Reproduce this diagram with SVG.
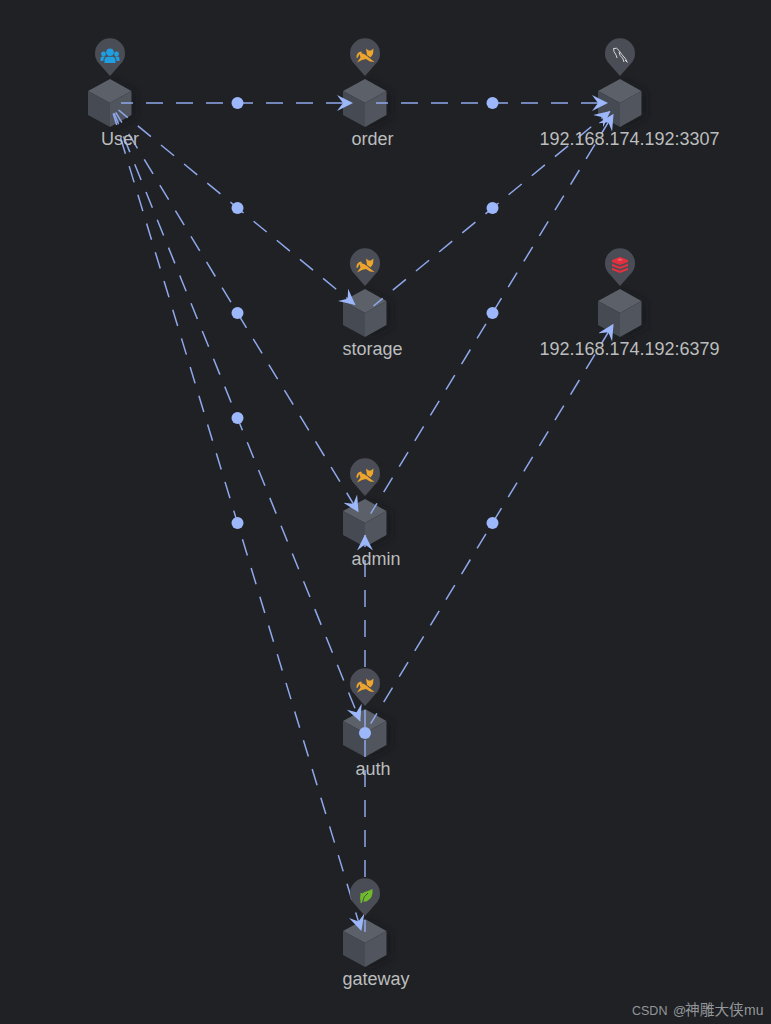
<svg xmlns="http://www.w3.org/2000/svg" width="771" height="1024" viewBox="0 0 771 1024">
<style>
.lbl{font:18px "Liberation Sans",Arial,sans-serif;fill:#bcbdbe;text-anchor:middle}
.e{fill:none;stroke:#8fa8ec;stroke-width:1.500;stroke-dasharray:17 13;stroke-dashoffset:5;marker-end:url(#arrow)}
.dot{fill:#9db7fb}
.pin{fill:#4a4d55}
.top{fill:#5c6069}.left{fill:#464a53}.right{fill:#51555e}
.wm{font-family:"Liberation Sans","Noto Sans CJK SC",sans-serif;fill:#94969a}
</style>
<defs>
<marker id="arrow" markerUnits="userSpaceOnUse" markerWidth="17" markerHeight="17" refX="15.500" refY="8" orient="auto">
<path d="M16 8L0 0L6 8L0 16Z" fill="#9db7fb"/>
</marker>
<filter id="sh" x="-30%" y="-30%" width="170%" height="160%"><feGaussianBlur stdDeviation="3"/></filter>
<g id="cube">
<path d="M3 -23L26 -11V14L3 26Z" fill="#15161a" opacity=".55" filter="url(#sh)"/>
<path class="top" d="M0 -24L21.500 -12L0 0L-22 -12Z"/>
<path class="left" d="M-22 -12L0 0V24L-22 12Z"/>
<path class="right" d="M21.500 -12L0 0V24L21.500 12Z"/>
</g>
<path id="pin" class="pin" d="M0 22.500L-10.500 10.500A15 15 0 1 1 10.500 10.500Z"/>
<g id="i-user" fill="#1f9fe2">
<circle cx="0" cy="-2.800" r="3.800"/><circle cx="-6.500" cy="-1" r="2.400"/><circle cx="6.500" cy="-1" r="2.400"/>
<path d="M-5.500 8V5.500Q-5.500 1.800 -2 1.800H2Q5.500 1.800 5.500 5.500V8Z"/>
<path d="M-9.500 6V3.500Q-9.500 1.500 -7.500 1.500H-5Q-6.700 3 -6.700 6Z"/><path d="M9.500 6V3.500Q9.500 1.500 7.500 1.500H5Q6.700 3 6.700 6Z"/>
</g>
<g id="i-cat" fill="#eda52d">
<path d="M1 -6.500L3.500 -4.500H6L8.500 -6.500L8 -1L5.500 2.500L2 0Z"/>
<path d="M-6 -2.500L-1 -1L2 1L5 3.500L9.500 7L5 6.500L1 4L-3 5L-8 7.500L-4.500 2.500Z"/>
<path d="M-8.500 3Q-9 -2.500 -4 -3.500L-3 -2.500Q-6.500 -1 -7 2.500Z"/>
</g>
<g id="i-mysql" fill="none" stroke="#d8d9db" stroke-width="1">
<path d="M-6.500 -6.500Q-3 -8 -1 -4.500Q1.500 -.5 4 2Q6 4 7 7"/>
<path d="M-6.500 -6.500Q-6.500 -3 -4.500 -1Q-3.500 .5 -3 3"/>
<path d="M-1 -3Q-.5 1 2.500 3Q3.500 5 4 7"/><path d="M5 5L7.500 7.500"/>
</g>
<g id="i-redis" fill="#e2303f">
<path d="M0 -8L8 -5V-3L0 0L-8 -3V-5Z"/>
<path d="M-8 -1.300L0 1.800L8 -1.300V1L0 4L-8 1Z"/>
<path d="M-8 2.700L0 5.800L8 2.700V5L0 8L-8 5Z"/>
<path fill="#f0606a" d="M0 -6.500L3 -5.200L0 -4L-3 -5.200Z"/>
</g>
<g id="i-leaf">
<path fill="#6fbb2c" d="M7.500 -7Q8.500 2 1.500 5.500H-3.500Q-7 -.5 -1 -3.800Q4 -5 7.500 -7Z"/>
<path fill="none" stroke="#4a4d55" stroke-width="1" d="M-2.500 6Q-1.500 0 3 -3"/>
<rect x="-4.500" y="-3" width="1.500" height="10" fill="#6fbb2c"/>
</g>
</defs>
<rect width="771" height="1024" fill="#1f2124"/>

<g id="cubes">
<use href="#cube" x="110" y="103"/><use href="#cube" x="365" y="103"/><use href="#cube" x="620" y="103"/>
<use href="#cube" x="365" y="313"/><use href="#cube" x="620" y="313"/><use href="#cube" x="365" y="523"/>
<use href="#cube" x="365" y="733"/><use href="#cube" x="365" y="943"/>
</g>

<g id="connectors">
<path class="e" d="M121 103H352.500"/>
<path class="e" d="M376 103H607.500"/>
<path class="e" d="M118.500 110L355 304.700"/>
<path class="e" d="M373.500 306L610 111.300"/>
<path class="e" d="M115.700 112.400L358.300 511.900"/>
<path class="e" d="M370.700 513.600L613.300 114.100"/>
<path class="e" d="M114.100 113.200L360.100 721"/>
<path class="e" d="M370.700 723.600L613.300 324.100"/>
<path class="e" d="M113.200 113.500L361.200 930.600"/>
<path class="e" d="M365 932V535"/>
<g class="dot">
<circle cx="237.500" cy="103" r="6"/><circle cx="492.500" cy="103" r="6"/>
<circle cx="237.500" cy="208" r="6"/><circle cx="492.500" cy="208" r="6"/>
<circle cx="237.500" cy="313" r="6"/><circle cx="492.500" cy="313" r="6"/>
<circle cx="237.500" cy="418" r="6"/><circle cx="492.500" cy="523" r="6"/>
<circle cx="237.500" cy="523" r="6"/><circle cx="365" cy="733" r="6"/>
</g>
</g>

<g id="node-user"><use href="#pin" x="110" y="53.500"/><use href="#i-user" x="110" y="55"/><text class="lbl" x="120" y="145">User</text></g>
<g id="node-order"><use href="#pin" x="365" y="53.500"/><use href="#i-cat" x="365" y="55"/><text class="lbl" x="372.500" y="145">order</text></g>
<g id="node-mysql"><use href="#pin" x="620" y="53.500"/><use href="#i-mysql" x="620" y="55"/><text class="lbl" x="629.500" y="145">192.168.174.192:3307</text></g>
<g id="node-storage"><use href="#pin" x="365" y="263.500"/><use href="#i-cat" x="365" y="265"/><text class="lbl" x="372.500" y="355">storage</text></g>
<g id="node-redis"><use href="#pin" x="620" y="263.500"/><use href="#i-redis" x="620" y="265"/><text class="lbl" x="629.500" y="355">192.168.174.192:6379</text></g>
<g id="node-admin"><use href="#pin" x="365" y="473.500"/><use href="#i-cat" x="365" y="475"/><text class="lbl" x="376" y="565">admin</text></g>
<g id="node-auth"><use href="#pin" x="365" y="683.500"/><use href="#i-cat" x="365" y="685"/><text class="lbl" x="373" y="775">auth</text></g>
<g id="node-gateway"><use href="#pin" x="365" y="893.500"/><use href="#i-leaf" x="365" y="896"/><text class="lbl" x="376" y="985">gateway</text></g>
<text class="wm" y="1015"><tspan x="632" font-size="12.500">CSDN</tspan> <tspan x="673" font-size="13">@</tspan><tspan x="685" font-size="14.700">神雕大侠</tspan><tspan x="744" font-size="14">mu</tspan></text>
</svg>
